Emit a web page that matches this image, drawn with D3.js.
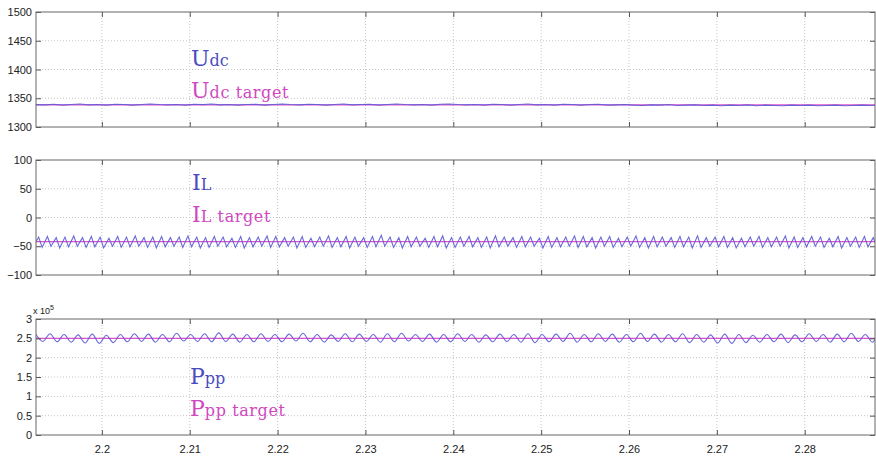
<!DOCTYPE html>
<html lang="en">
<head>
<meta charset="UTF-8">
<title>Udc / IL / Ppp</title>
<script src="https://cdn.jsdelivr.net/npm/d3@7"></script>
<style>
    body{ margin:0; background:#fff; }
    .tick text{ font-family:"Liberation Sans", Arial, sans-serif; font-size:11px; fill:#222; }
    .grid line{ stroke:#c4c4c4; stroke-dasharray:1,2; }
    .tag{ font-family:"DejaVu Serif", "Liberation Serif", serif; }
</style>
</head>
<body>
<svg width="876" height="458"></svg>
<script>
    // time axis
    const xTicks = [2.2, 2.21, 2.22, 2.23, 2.24, 2.25, 2.26, 2.27, 2.28];
    const tStart = 2.1925, tEnd = 2.288;

    // Udc (V), one sample per ms
    const udcStep = 0.001;
    const udc = [1339,1338.5,1339.5,1338,1339,1340,1338.5,1339,1338,1339.5,1339,1338,1339,1340,1339,1338.5,1339,1338,1339.5,1339,1340,1338.5,1339,1338,1339,1339.5,1338,1339,1340,1339,1338.5,1339.5,1339,1338,1339,1340,1338.5,1339,1339.5,1338,1339,1340,1339,1338.5,1339,1338,1339.5,1340,1339,1338.5,1339,1338,1339.5,1339,1338,1339,1340,1338.5,1339,1338,1339.5,1339,1338,1339,1339.5,1338,1338.5,1339,1338,1337.5,1338.5,1338,1339,1337.5,1338,1338.5,1337.5,1338,1337,1338,1337.5,1338.5,1337,1338,1337.5,1337,1338,1337.5,1338,1337,1337.5,1338,1337,1337.5,1338,1337.5,1338,1337];
    const udcTarget = 1338.5;
    const udcTicks = [1300, 1350, 1400, 1450, 1500];

    // IL (A): ripple peaks / troughs, period 1 ms
    const ilStep = 0.001;
    const ilPeaks = [-34,-33,-35,-34,-32,-35,-33,-34,-36,-33,-34,-32,-35,-34,-33,-35,-34,-32,-34,-35,-33,-34,-36,-33,-35,-34,-32,-33,-35,-34,-33,-36,-34,-32,-35,-33,-34,-35,-33,-31,-34,-35,-33,-34,-36,-33,-32,-35,-34,-33,-35,-34,-32,-34,-35,-33,-34,-36,-33,-35,-34,-32,-33,-35,-34,-33,-36,-34,-32,-35,-33,-34,-35,-33,-34,-32,-35,-34,-33,-35,-36,-34,-33,-35,-34,-32,-34,-35,-33,-34,-36,-33,-35,-34,-33,-35,-34,-33];
    const ilTroughs = [-51,-52,-50,-53,-51,-50,-52,-51,-53,-50,-52,-51,-50,-52,-53,-51,-50,-52,-51,-53,-52,-50,-51,-52,-53,-51,-50,-52,-51,-50,-53,-52,-51,-50,-52,-51,-53,-50,-52,-51,-50,-52,-53,-51,-50,-52,-51,-53,-52,-50,-51,-52,-53,-51,-50,-52,-51,-50,-53,-52,-51,-50,-52,-51,-53,-50,-52,-51,-50,-52,-53,-51,-50,-52,-51,-53,-52,-50,-51,-52,-53,-51,-50,-52,-51,-50,-53,-52,-51,-50,-52,-51,-53,-50,-52,-51,-50,-52];
    const ilTarget = -42;
    const ilTicks = [-100, -50, 0, 50, 100];

    // Ppp (x1e5 W): oscillation peaks / troughs, period 1.6 ms
    const pppStep = 0.0016;
    const pppPeaks = [2.6,2.62,2.6,2.59,2.61,2.58,2.6,2.62,2.61,2.6,2.63,2.6,2.62,2.64,2.61,2.6,2.62,2.6,2.61,2.63,2.6,2.59,2.62,2.61,2.6,2.62,2.63,2.6,2.61,2.6,2.62,2.6,2.59,2.61,2.6,2.62,2.6,2.61,2.63,2.6,2.62,2.61,2.6,2.63,2.61,2.6,2.62,2.6,2.59,2.61,2.6,2.58,2.6,2.61,2.59,2.62,2.6,2.61,2.63,2.6,2.61];
    const pppTroughs = [2.42,2.41,2.4,2.38,2.37,2.39,2.41,2.42,2.4,2.41,2.43,2.42,2.41,2.42,2.4,2.41,2.42,2.41,2.43,2.41,2.4,2.42,2.41,2.42,2.4,2.41,2.43,2.42,2.4,2.41,2.42,2.4,2.41,2.42,2.4,2.39,2.41,2.42,2.4,2.41,2.42,2.4,2.41,2.42,2.4,2.41,2.39,2.4,2.38,2.37,2.39,2.4,2.41,2.39,2.41,2.42,2.4,2.41,2.42,2.4,2.41];
    const pppTarget = 2.5;
    const pppTicks = [0, 0.5, 1, 1.5, 2, 2.5, 3];

    const blue = "#5a5ad6", pink = "#e050c8";
    const blueText = "#4b4bbf", pinkText = "#d048bf";

    const svg = d3.select("svg");
    const left = 36, right = 875;
    const x = d3.scaleLinear().domain([tStart, tEnd]).range([left, right]);

    // build series points
    const udcPts = udc.map((v, i) => [tStart + i * udcStep, v]);
    const ilPts = [];
    ilPeaks.forEach((p, i) => {
        ilPts.push([tStart - 0.0003 + i * ilStep, ilTroughs[i]]);
        ilPts.push([tStart + 0.0003 + i * ilStep, p]);
    });
    const pppPts = [];
    pppPeaks.forEach((p, i) => {
        pppPts.push([tStart + i * pppStep, p]);
        pppPts.push([tStart + 0.0008 + i * pppStep, pppTroughs[i]]);
    });

    const panels = [
        {id:"a", top:12, bottom:127, domain:[1300,1500], ticks:udcTicks, pts:udcPts, curve:d3.curveLinear,
         target:udcTarget, fmt:d3.format("d"), main:["U","dc"], tx:191, ty:66},
        {id:"b", top:160, bottom:275, domain:[-100,100], ticks:ilTicks, pts:ilPts, curve:d3.curveLinear,
         target:ilTarget, fmt:d3.format("d"), main:["I","L"], tx:192, ty:190},
        {id:"c", top:319, bottom:435, domain:[0,3], ticks:pppTicks, pts:pppPts, curve:d3.curveCardinal,
         target:pppTarget, fmt:d => d, main:["P","pp"], tx:190, ty:384, xlabels:true}
    ];

    panels.forEach(p => {
        const y = d3.scaleLinear().domain(p.domain).range([p.bottom, p.top]);
        const g = svg.append("g");
        const h = p.bottom - p.top;

        // grid
        g.append("g").attr("class","grid")
            .selectAll("line").data(xTicks).join("line")
            .attr("x1", d => x(d)).attr("x2", d => x(d))
            .attr("y1", p.top).attr("y2", p.bottom);
        g.append("g").attr("class","grid")
            .selectAll("line").data(p.ticks.slice(1, -1)).join("line")
            .attr("x1", left).attr("x2", right)
            .attr("y1", d => y(d)).attr("y2", d => y(d));

        // clip
        g.append("clipPath").attr("id", "clip" + p.id)
            .append("rect").attr("x", left).attr("y", p.top).attr("width", right - left).attr("height", h);

        // target first, measured signal on top
        const line = d3.line().x(d => x(d[0])).y(d => y(d[1])).curve(p.curve);
        const lines = g.append("g").attr("clip-path", `url(#clip${p.id})`);
        lines.append("path").attr("d", line([[tStart, p.target], [tEnd, p.target]]))
            .attr("fill","none").attr("stroke", pink).attr("stroke-width", 1.1);
        lines.append("path").attr("d", line(p.pts))
            .attr("fill","none").attr("stroke", blue).attr("stroke-width", 1.1).attr("stroke-opacity", 0.9);

        // axes, ticks pointing inwards
        g.append("g").attr("transform", `translate(${left},0)`)
            .call(d3.axisLeft(y).tickValues(p.ticks).tickFormat(p.fmt).tickSizeInner(-5).tickSizeOuter(0).tickPadding(4));
        g.append("g").attr("transform", `translate(${right},0)`)
            .call(d3.axisRight(y).tickValues(p.ticks).tickFormat("").tickSizeInner(-5).tickSizeOuter(0));
        g.append("g").attr("transform", `translate(0,${p.top})`)
            .call(d3.axisTop(x).tickValues(xTicks).tickFormat("").tickSizeInner(-5).tickSizeOuter(0));
        g.append("g").attr("transform", `translate(0,${p.bottom})`)
            .call(d3.axisBottom(x).tickValues(xTicks).tickFormat(p.xlabels ? d3.format("") : "")
                .tickSizeInner(-5).tickSizeOuter(0).tickPadding(10));
        g.selectAll(".domain").remove();
        g.selectAll(".tick line").attr("stroke", "#555");

        g.append("rect").attr("x", left).attr("y", p.top).attr("width", right - left).attr("height", h)
            .attr("fill","none").attr("stroke","#666").attr("stroke-width", 1);

        // labels
        const t1 = g.append("text").attr("class","tag").attr("x", p.tx).attr("y", p.ty).attr("fill", blueText);
        t1.append("tspan").attr("font-size", 22).text(p.main[0]);
        t1.append("tspan").attr("font-size", 16).text(p.main[1]);
        const t2 = g.append("text").attr("class","tag").attr("x", p.tx).attr("y", p.ty + 32).attr("fill", pinkText);
        t2.append("tspan").attr("font-size", 22).text(p.main[0]);
        t2.append("tspan").attr("font-size", 16).attr("letter-spacing", 0.6).text(p.main[1] + " target");
    });

    // exponent label
    const ex = svg.append("text").attr("x", 33).attr("y", 314)
        .attr("font-family", "Liberation Sans, Arial, sans-serif").attr("font-size", 9).attr("fill", "#222");
    ex.append("tspan").text("x 10");
    ex.append("tspan").attr("dy", -4).attr("font-size", 7).text("5");
</script>
</body>
</html>
